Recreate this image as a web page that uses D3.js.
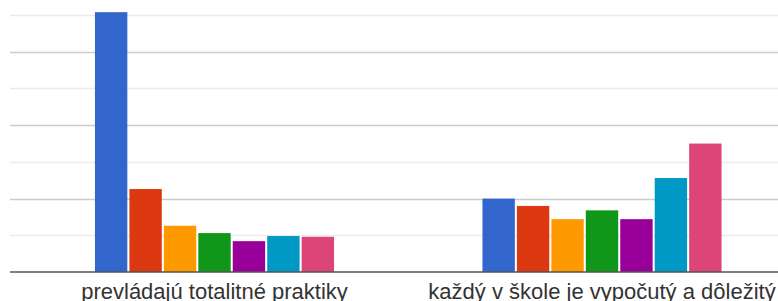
<!DOCTYPE html>
<html>
<head>
<meta charset="utf-8">
<script src="https://cdn.jsdelivr.net/npm/d3@7"></script>
<style>
  html, body { margin: 0; padding: 0; background: #fff; }
  svg { display: block; }
</style>
</head>
<body>
<svg id="chart" width="778" height="301"></svg>
<script>
const categories = ["prevládajú totalitné praktiky", "každý v škole je vypočutý a dôležitý"];
const seriesNames = ["1", "2", "3", "4", "5", "6", "7"];
const seriesColors = ["#3366cc", "#dc3912", "#ff9900", "#109618", "#990099", "#0099c6", "#dd4477"];
const values = [
  [35.4, 11.3, 6.3, 5.3, 4.2, 4.9, 4.8],
  [10.0, 9.0, 7.2, 8.4, 7.2, 12.8, 17.5]
];
const yTicks = [5, 10, 15, 20, 25, 30, 35];

const svg = d3.select("#chart");
const gridLeft = 10, gridRight = 778;
const baseY = 272;

const x0 = d3.scaleBand().domain(categories).range([20.75, 795.75])
  .paddingInner(0.383).paddingOuter(0.1915);
const x1 = d3.scaleBand().domain(seriesNames).range([0, x0.bandwidth()])
  .paddingInner(0.06).paddingOuter(0);
const y = d3.scaleLinear().domain([0, 40]).range([baseY, baseY - 8 * 36.7]);
const color = d3.scaleOrdinal().domain(seriesNames).range(seriesColors);

// gridlines
svg.append("g").selectAll("line").data(yTicks).join("line")
  .attr("x1", gridLeft).attr("x2", gridRight)
  .attr("y1", d => Math.round(y(d)) + 0.5).attr("y2", d => Math.round(y(d)) + 0.5)
  .attr("stroke", d => d % 10 === 0 ? "#cccccc" : "#ebebeb")
  .attr("stroke-width", 1.5);

// bars
const groups = svg.append("g").selectAll("g").data(categories).join("g")
  .attr("transform", d => `translate(${x0(d)},0)`);
groups.selectAll("rect")
  .data((d, i) => seriesNames.map((s, j) => ({ s, v: values[i][j] })))
  .join("rect")
  .attr("x", d => x1(d.s))
  .attr("width", x1.bandwidth())
  .attr("y", d => y(d.v))
  .attr("height", d => baseY - y(d.v))
  .attr("fill", d => color(d.s));

// baseline
svg.append("line")
  .attr("x1", gridLeft).attr("x2", gridRight)
  .attr("y1", baseY).attr("y2", baseY)
  .attr("stroke", "#555").attr("stroke-width", 1.5);

// category labels
svg.append("g").selectAll("text").data(categories).join("text")
  .attr("x", d => x0(d) + x0.bandwidth() / 2)
  .attr("y", 299)
  .attr("text-anchor", "middle")
  .attr("font-family", "Arial, 'Liberation Sans', sans-serif")
  .attr("font-size", 22)
  .attr("fill", "#333")
  .text(d => d);
</script>
</body>
</html>
